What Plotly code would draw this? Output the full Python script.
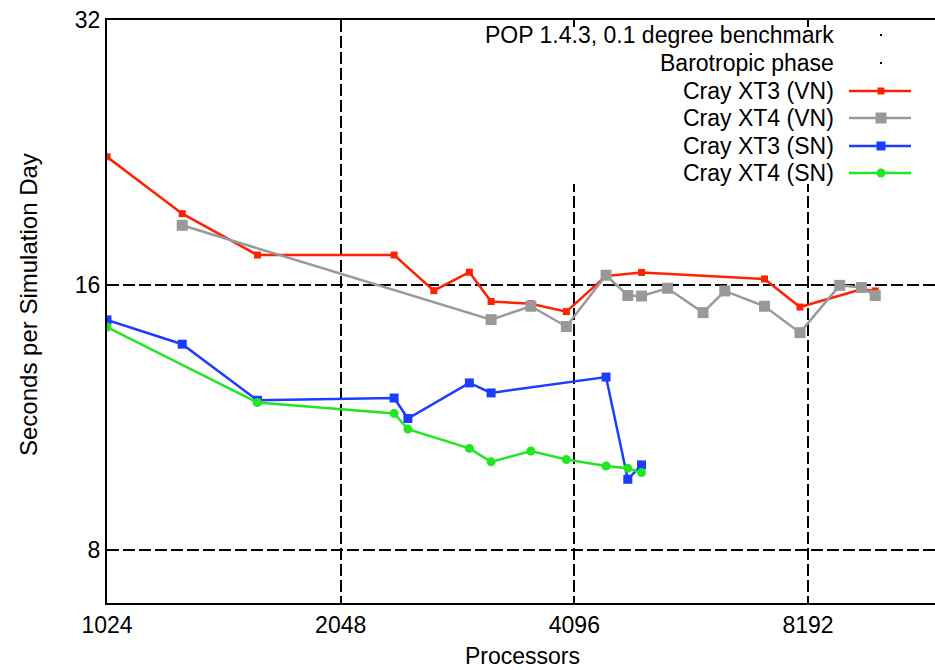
import math
import plotly.graph_objects as go

# ---------------- data ----------------
procs_xt3_vn = [1024, 1280, 1600, 2400, 2700, 3000, 3200, 3600, 4000, 4500, 5000, 7200, 8000, 9600, 10000]
secs_xt3_vn = [22.37, 19.28, 17.3, 17.3, 15.76, 16.54, 15.32, 15.23, 14.92, 16.38, 16.53, 16.25, 15.1, 15.82, 15.75]

procs_xt4_vn = [1280, 3200, 3600, 4000, 4500, 4800, 5000, 5400, 6000, 6400, 7200, 8000, 9000, 9600, 10000]
secs_xt4_vn = [18.7, 14.61, 15.13, 14.35, 16.41, 15.56, 15.54, 15.86, 14.88, 15.75, 15.13, 14.12, 15.98, 15.89, 15.56]

procs_xt3_sn = [1024, 1280, 1600, 2400, 2500, 3000, 3200, 4500, 4800, 5000]
secs_xt3_sn = [14.6, 13.7, 11.83, 11.9, 11.28, 12.38, 12.06, 12.57, 9.62, 9.99]

procs_xt4_sn = [1024, 1600, 2400, 2500, 3000, 3200, 3600, 4000, 4500, 4800, 5000]
secs_xt4_sn = [14.33, 11.76, 11.43, 10.97, 10.43, 10.07, 10.36, 10.13, 9.96, 9.90, 9.79]

x_ticks = [1024, 2048, 4096, 8192]
x_tick_labels = ["1024", "2048", "4096", "8192"]
y_ticks = [8, 16, 32]
y_tick_labels = ["8", "16", "32"]

legend_title_1 = "POP 1.4.3, 0.1 degree benchmark"
legend_title_2 = "Barotropic phase"
series_names = ["Cray XT3 (VN)", "Cray XT4 (VN)", "Cray XT3 (SN)", "Cray XT4 (SN)"]

# ---------------- styles ----------------
FONT = "Liberation Sans"
FS = 23
RED = "#ff2200"
GRAY = "#999999"
BLUE = "#1a3dff"
GREEN = "#22e622"

W, H = 935, 670
L, T, B, R = 107, 20, 67, 0
PW, PH = W - L - R, H - T - B


def px(xp):
    return (xp - L) / PW


def py(yp):
    return (H - B - yp) / PH


fig = go.Figure()

series = [
    (procs_xt3_vn, secs_xt3_vn, series_names[0], RED, "square", 7),
    (procs_xt4_vn, secs_xt4_vn, series_names[1], GRAY, "square", 11),
    (procs_xt3_sn, secs_xt3_sn, series_names[2], BLUE, "square", 9),
    (procs_xt4_sn, secs_xt4_sn, series_names[3], GREEN, "circle", 9),
]
for xs, ys, name, col, sym, sz in series:
    fig.add_trace(go.Scatter(
        x=xs, y=ys, name=name, mode="lines+markers",
        line=dict(color=col, width=2.5),
        marker=dict(color=col, symbol=sym, size=sz, line=dict(width=0)),
        showlegend=False,
    ))

shapes = []
# white key box hiding grid lines (region holds no data)
shapes.append(dict(type="rect", xref="paper", yref="paper",
                   x0=px(478), x1=1.0, y0=py(184), y1=py(27),
                   fillcolor="white", line=dict(width=0), layer="above"))

annotations = []
rows = [35, 63, 91, 118, 146, 173]
texts = [legend_title_1, legend_title_2] + series_names
for i, (yy, txt) in enumerate(zip(rows, texts)):
    annotations.append(dict(text=txt, xref="paper", yref="paper", x=px(836), y=py(yy),
                            xanchor="right", yanchor="middle", showarrow=False,
                            font=dict(family=FONT, size=FS, color="black")))
# tiny dots for first two key rows
for yy in rows[:2]:
    shapes.append(dict(type="rect", xref="paper", yref="paper",
                       x0=px(880), x1=px(882), y0=py(yy + 1), y1=py(yy - 1),
                       fillcolor="black", line=dict(width=0), layer="above"))
# line samples
for (xs, ys, name, col, sym, sz), yy in zip(series, rows[2:]):
    shapes.append(dict(type="line", xref="paper", yref="paper",
                       x0=px(849), x1=px(911), y0=py(yy), y1=py(yy),
                       line=dict(color=col, width=2.5), layer="above"))
    h = sz / 2
    shapes.append(dict(type="circle" if sym == "circle" else "rect", xref="paper", yref="paper",
                       x0=px(881 - h), x1=px(881 + h), y0=py(yy + h), y1=py(yy - h),
                       fillcolor=col, line=dict(width=0), layer="above"))

annotations.append(dict(text="Processors", xref="paper", yref="paper", x=px(522), y=py(656),
                        xanchor="center", yanchor="middle", showarrow=False,
                        font=dict(family=FONT, size=FS, color="black")))
annotations.append(dict(text="Seconds per Simulation Day", xref="paper", yref="paper",
                        x=px(28), y=py(305), textangle=-90,
                        xanchor="center", yanchor="middle", showarrow=False,
                        font=dict(family=FONT, size=24, color="black")))

x_max = 11940
y_min = 6.96

fig.update_layout(
    width=W, height=H,
    margin=dict(l=L, r=R, t=T, b=B, pad=0),
    paper_bgcolor="white", plot_bgcolor="white",
    font=dict(family=FONT, size=FS, color="black"),
    shapes=shapes, annotations=annotations,
    showlegend=False,
    xaxis=dict(type="log", range=[math.log10(1024), math.log10(x_max)],
               tickvals=x_ticks, ticktext=x_tick_labels,
               showgrid=True, gridcolor="black", gridwidth=1.5, griddash="12px,4px",
               showline=True, linecolor="black", linewidth=2, mirror="ticks",
               ticks="inside", ticklen=6, tickcolor="black", tickwidth=1.5,
               zeroline=False, tickfont=dict(family=FONT, size=FS)),
    yaxis=dict(type="log", range=[math.log10(y_min), math.log10(32)],
               tickvals=y_ticks, ticktext=y_tick_labels,
               showgrid=True, gridcolor="black", gridwidth=1.5, griddash="12px,4px",
               showline=True, linecolor="black", linewidth=2, mirror=False,
               ticks="inside", ticklen=6, tickcolor="black", tickwidth=1.5,
               zeroline=False, tickfont=dict(family=FONT, size=FS)),
)

fig.write_html("out.html")
